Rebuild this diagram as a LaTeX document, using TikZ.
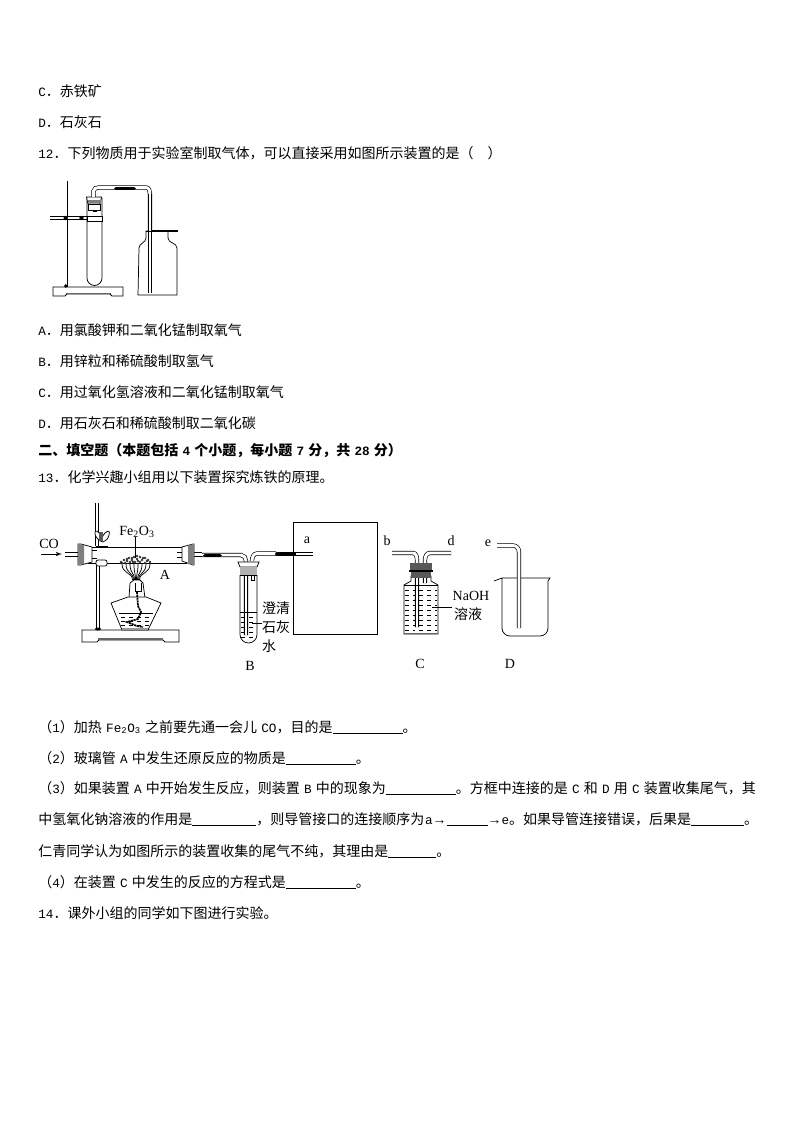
\documentclass[tikz,border=0pt]{standalone}
\usepackage{fontspec}
\setmainfont{Noto Sans CJK SC}
\newfontfamily\lat{Liberation Serif}
\newfontfamily\latm{Liberation Mono}
\usetikzlibrary{arrows}
\newcommand{\blank}[1]{\rule[-1.5pt]{\dimexpr#1pt*3/4\relax}{.5pt}}
\newcommand{\la}[1]{{\latm\fontsize{9.5}{12}\selectfont #1}}
\newcommand{\hs}{\hspace{3.15pt}}

\begin{document}
\begin{tikzpicture}[x=0.75pt, y=-0.75pt, line width=.55pt,
line node/.style={anchor=base west, inner sep=0pt, font=\fontsize{10.5}{12}\selectfont},
tag node/.style={inner sep=0pt, font=\lat\fontsize{10.5}{12}\selectfont},
cjk node/.style={inner sep=0pt, font=\fontsize{10.5}{12}\selectfont},
glass/.style={draw=black, line width=.5pt, double=white, double distance=2.2pt},
rubber/.style={line width=2.8pt, black, line cap=round},
wave/.style={line width=.45pt, dash pattern=on 3pt off 3pt}]
\useasboundingbox[fill=white] (0,0) rectangle (794,1123);

% text above the figures
\node[line node] (t1) at (38,97) {\la{C}．赤铁矿};
\node[line node] (t2) at (38,128) {\la{D}．石灰石};
\node[line node] (t3) at (38,159) {\la{12}．下列物质用于实验室制取气体，可以直接采用如图所示装置的是（\hspace{10.5pt}）};
\node[line node] (t4) at (38,335) {\la{A}．用氯酸钾和二氧化锰制取氧气};
\node[line node] (t5) at (38,366) {\la{B}．用锌粒和稀硫酸制取氢气};
\node[line node] (t6) at (38,397) {\la{C}．用过氧化氢溶液和二氧化锰制取氧气};
\node[line node] (t7) at (38,428) {\la{D}．用石灰石和稀硫酸制取二氧化碳};
\node[line node, font=\fontsize{10.5}{12}\selectfont\bfseries] (t8) at (38,455) {二、填空题（本题包括\hs{\latm\bfseries\fontsize{9.5}{12}\selectfont 4}\hs 个小题，每小题\hs{\latm\bfseries\fontsize{9.5}{12}\selectfont 7}\hs 分，共\hs{\latm\bfseries\fontsize{9.5}{12}\selectfont 28}\hs 分）};
\node[line node] (t9) at (38,482) {\la{13}．化学兴趣小组用以下装置探究炼铁的原理。};

% first apparatus
\fill[white,draw=black] (53,296) -- (53,287) -- (123,287) -- (123,296) -- (112,296) -- (110,294) -- (67,294) -- (65,296) -- cycle;
\draw[black!60, line width=1pt] (66,293.5) -- (111,293.5);
\draw[glass] (65.7,181) -- (65.7,287);
\draw[glass] (50,218) -- (87,218);
\fill (65.7,218) circle (2.2) (81.5,218) circle (2.2) (65.7,286) circle (1.8);
\draw[fill=white] (87,198) -- (87,278) arc[start angle=180, end angle=0, radius=7.5] -- (102,198);
\draw[fill=white] (87,216) rectangle (102,221);
\draw[fill=white] (86.5,197) -- (101.5,197) -- (100,204) -- (88,204) -- cycle;
\fill[black!50] (87.5,200) rectangle (100.5,203);
\draw (88,204) rectangle (100,210);
\draw (93,210) rectangle (96,211);
\draw[glass] (93.5,197) -- (93.5,191) to[out=90,in=180] (99,187.5) -- (146,187.5) to[out=0,in=90] (150,194) -- (150,293);
\draw[rubber] (116,188.5) -- (134,188.5);
\draw[fill=white] (146,231) -- (146,232) to[out=-90,in=90] (146,238) to[out=-90,in=90] (139,248) -- (138,295) -- (177,295) -- (177,248) to[out=90,in=-90] (168,238) to[out=90,in=-90] (168,232) -- (168,231) -- cycle;
\draw[glass] (150,194) -- (150,293);
\draw[line width=1.6pt] (152,231) -- (178,231);
\draw (146,231.5) -- (153,231.5);

% second apparatus, stand and lamp
\draw[fill=white] (82,642) -- (82,630) -- (179,630) -- (179,642) -- (165,642) -- (163,640) -- (99,640) -- (97,642) -- cycle;
\draw[black!60, line width=1pt] (98,639) -- (163,639);
\draw[glass] (98,564) -- (98,629);
\fill (98,629) ellipse (3 and 1.5);
\draw[glass] (97,503) -- (97,546);
\draw[fill=white] (95,534) .. controls (94,529) and (99,530) .. (102,538) .. controls (105,530) and (111,529) .. (109,535) .. controls (108,539) and (106,541) .. (103,542) .. controls (99,541) and (96,538) .. (95,534);
\fill[black!65] (99,532) rectangle (103,541);
\draw[fill=white] (96,546) rectangle (107,551);
% reduction tube
\draw[glass] (65,554.5) -- (78,554.5);
\draw[glass] (194,554.5) -- (202,554.5);
\draw[fill=white] (88,547) rectangle (186,563);
\draw[fill=white, rounded corners=1.5pt] (96,560) rectangle (107,566);
\draw[fill=white] (78,544) -- (81,544) -- (92,547) -- (92,562) -- (81,565) -- (78,565) -- cycle;
\fill[black!50] (78,544) -- (84,545) -- (84,564) -- (78,565) -- cycle;
\draw[fill=white] (182,547) -- (193,544) -- (194,544) -- (194,565) -- (193,565) -- (182,561) -- cycle;
\fill[black!50] (188,545.5) -- (194,544) -- (194,565) -- (188,563.5) -- cycle;
\draw (92,550) -- (97,550) (92,558) -- (97,558) (177,552) -- (182,552) (177,557) -- (182,557);
\draw[-latex', line width=.6pt] (41,554) -- (62,554);
\node[tag node] (co) at (49,544) {CO};
\node[tag node] (fe) at (137,532) {Fe\textsubscript{2}O\textsubscript{3}};
\node[tag node] (la) at (165,575) {A};
% flame and powder
\foreach \x in {122,126,130,134,138,142,146,150}
  \draw ({136+(\x-136)*.25},580) .. controls ({136+(\x-136)*.25},572) and (\x,574) .. (\x,564);
\foreach \x/\y in {121/562,124/560,127/561,129/558,132/560,134/557,137/559,140/557,142/560,145/558,147/561,150/562,125/563,130/562,135/562,140/562,145/563,122/563,127/559,132/558,137/556,143/558,148/560,133/562,138/561}
  \fill[black!80] (\x,\y) circle (1.3);
\draw (135,537) -- (135,558);
\draw[fill=white] (129,598) -- (130,583) -- (134,580) -- (140,580) -- (143,583) -- (145,598);
\draw (135,583) -- (135,591) -- (141,591) -- (141,583);
\draw[fill=white] (111,603) -- (128,597) -- (146,597) -- (161,603) -- (148,630) -- (122,630) -- cycle;
\draw (119,613) -- (153,613);
\foreach \y in {617,621,625}
  \draw[wave] (121,\y) -- (151,\y);
\draw[line width=1.3pt, dash pattern=on 1.6pt off .5pt] (137,592) -- (138,606) -- (141,612) -- (138,619) -- (127,622) -- (137,626) -- (143,627);
\draw[black!40, line width=1pt] (122,629) -- (148,629);
% test tube B
\draw[glass] (202,555) -- (241,555) to[out=0,in=90] (246,561) -- (246,635);
\draw[glass] (252,561) to[out=90,in=180] (257,553.5) -- (276,553.5);
\draw[rubber] (205,555.5) -- (220,555.5);
\draw[rubber] (277,554) -- (296,554);
\draw (240,575) -- (240,634.5) arc[start angle=180, end angle=0, radius=8.5] -- (257,575);
\draw[glass] (246,565) -- (246,635);
\draw[fill=white] (238,562) -- (259,562) -- (257,567) -- (240,567) -- cycle;
\fill[black!30] (240,567) rectangle (257,575);
\draw (240,575) -- (257,575);
\draw (251,575) rectangle (254,580);
\draw (240,612) -- (257,612);
\foreach \y in {617,622,627,632,637}
  \draw[wave] (241,\y) -- (256,\y);
\draw (252,623) -- (262,623);
\node[cjk node] (lb1) at (276,608) {澄清};
\node[cjk node] (lb2) at (276,627) {石灰};
\node[cjk node] (lb3) at (269,646) {水};
\node[tag node] (lb) at (250,666) {B};
% box
\draw (293.3,522.7) rectangle (377.3,634.3);
\draw[glass] (296,554) -- (313,554);
\node[tag node] (ta) at (307,540) {a};
\node[tag node] (tb) at (387,541) {b};
\node[tag node] (td) at (451,541) {d};
\node[tag node] (te) at (488,543) {e};
% washing bottle C
\draw[glass] (392,553) -- (413,553) to[out=0,in=90] (417,560) -- (417,627);
\draw[glass] (451,553) -- (430,553) to[out=180,in=90] (425,560) -- (425,583);
\draw (404,634) -- (404,585) -- (411,581) -- (411,576) -- (431,576) -- (431,581) -- (438,585) -- (438,634) -- cycle;
\fill[black!65] (410,563) rectangle (432,570);
\fill[black!65] (411,572) rectangle (431,578);
\draw[line width=.9pt] (409,571) -- (433,571);
\draw[glass] (417,578) -- (417,627);
\draw[glass] (425,578) -- (425,583);
\draw (404,585) -- (438,585);
\foreach \y in {590,595,600,605,610,615,620,625,630}
  \draw[wave] (405,\y) -- (415,\y) (419,\y) -- (437,\y);
\draw[black!60, line width=1pt] (404,633.5) -- (438,633.5);
\draw (432,607) -- (452,607);
\node[tag node] (na) at (471,596) {NaOH};
\node[cjk node] (so) at (468,614) {溶液};
\node[tag node] (lc) at (420,664) {C};
% beaker D
\draw (494,581) -- (502,578) -- (550,578) -- (548,581) -- (548,628) to[out=-90,in=0] (540,636) -- (510,636) to[out=180,in=-90] (502,628) -- (502,578);
\draw[glass] (497,545.5) -- (513,545.5) to[out=0,in=90] (519,552) -- (519,628);
\node[tag node] (ld) at (510,664) {D};

% text below the figures
\node[line node] (q1) at (38,732) {（\la{1}）加热\hs\la{Fe\textsubscript{2}O\textsubscript{3}}\hs 之前要先通一会儿\hs\la{CO}，目的是\blank{70}。};
\node[line node] (q2) at (38,763) {（\la{2}）玻璃管\hs\la{A}\hs 中发生还原反应的物质是\blank{70}。};
\node[line node] (q3) at (38,793) {（\la{3}）如果装置\hs\la{A}\hs 中开始发生反应，则装置\hs\la{B}\hs 中的现象为\blank{70}。方框中连接的是\hs\la{C}\hs 和\hs\la{D}\hs 用\hs\la{C}\hs 装置收集尾气，其};
\node[line node] (q4) at (38,824) {中氢氧化钠溶液的作用是\blank{64}，则导管接口的连接顺序为\hspace{.5pt}\la{a}{\lat→}\blank{41}{\lat→}\la{e}。如果导管连接错误，后果是\blank{53}。};
\node[line node] (q5) at (38,856) {仁青同学认为如图所示的装置收集的尾气不纯，其理由是\blank{48}。};
\node[line node] (q6) at (38,887) {（\la{4}）在装置\hs\la{C}\hs 中发生的反应的方程式是\blank{70}。};
\node[line node] (q7) at (38,918) {\la{14}．课外小组的同学如下图进行实验。};
\end{tikzpicture}
\end{document}
